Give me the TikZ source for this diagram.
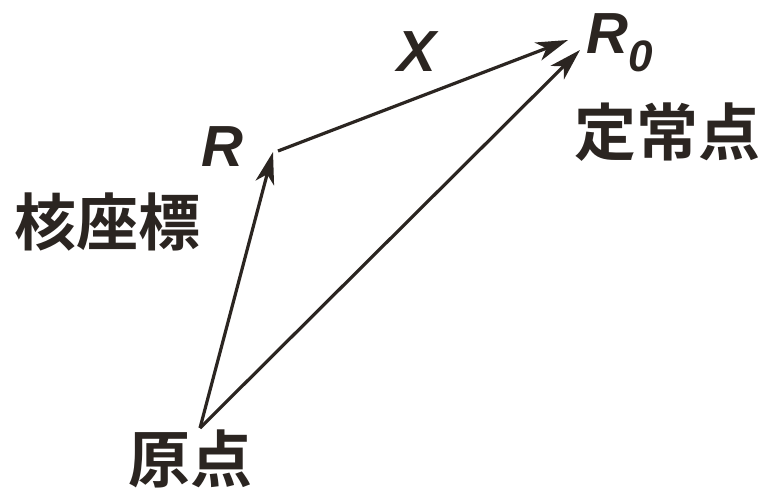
\documentclass[tikz,border=0pt]{standalone}
\usepackage{fontspec}
\setmainfont{Liberation Sans}
\newfontfamily\cjk{Noto Sans CJK JP}[BoldFont={* Bold}]
\usetikzlibrary{arrows.meta}
\definecolor{ink}{RGB}{43,37,33}
\tikzset{
  vec/.style={draw=ink, line width=3.2pt, -{Stealth[length=32pt,width=19pt,inset=9pt]}},
  latin/.style={text=ink, inner sep=0pt, font=\fontsize{58}{60}\selectfont\bfseries\itshape},
  kanji/.style={text=ink, inner sep=0pt, font=\fontsize{62}{64}\selectfont\cjk\bfseries},
}
\begin{document}
\begin{tikzpicture}[x=1pt,y=-1pt]
\useasboundingbox (0,0) rectangle (763,490);
\fill[white] (0,0) rectangle (763,490);
\coordinate (O) at (200,428);
\coordinate (Rt) at (273,152);
\coordinate (Xs) at (278,151);
\coordinate (Xe) at (568,40);
\coordinate (R0t) at (580,50);
\draw[vec] (O) -- (Rt);
\draw[vec] (Xs) -- (Xe);
\draw[vec] (O) -- (R0t);
\node[latin] (lR) at (222,147) {R};
\node[latin] (lX) at (417,52) {X};
\node[latin, anchor=base west] (lR0) at (586,53) {R\raisebox{-0.32em}{\fontsize{44}{44}\selectfont 0}};
\node[kanji] (lfix) at (667,132) {定常点};
\node[kanji] (lnuc) at (107,222) {核座標};
\node[kanji] (lorig) at (190,459) {原点};
\end{tikzpicture}
\end{document}
